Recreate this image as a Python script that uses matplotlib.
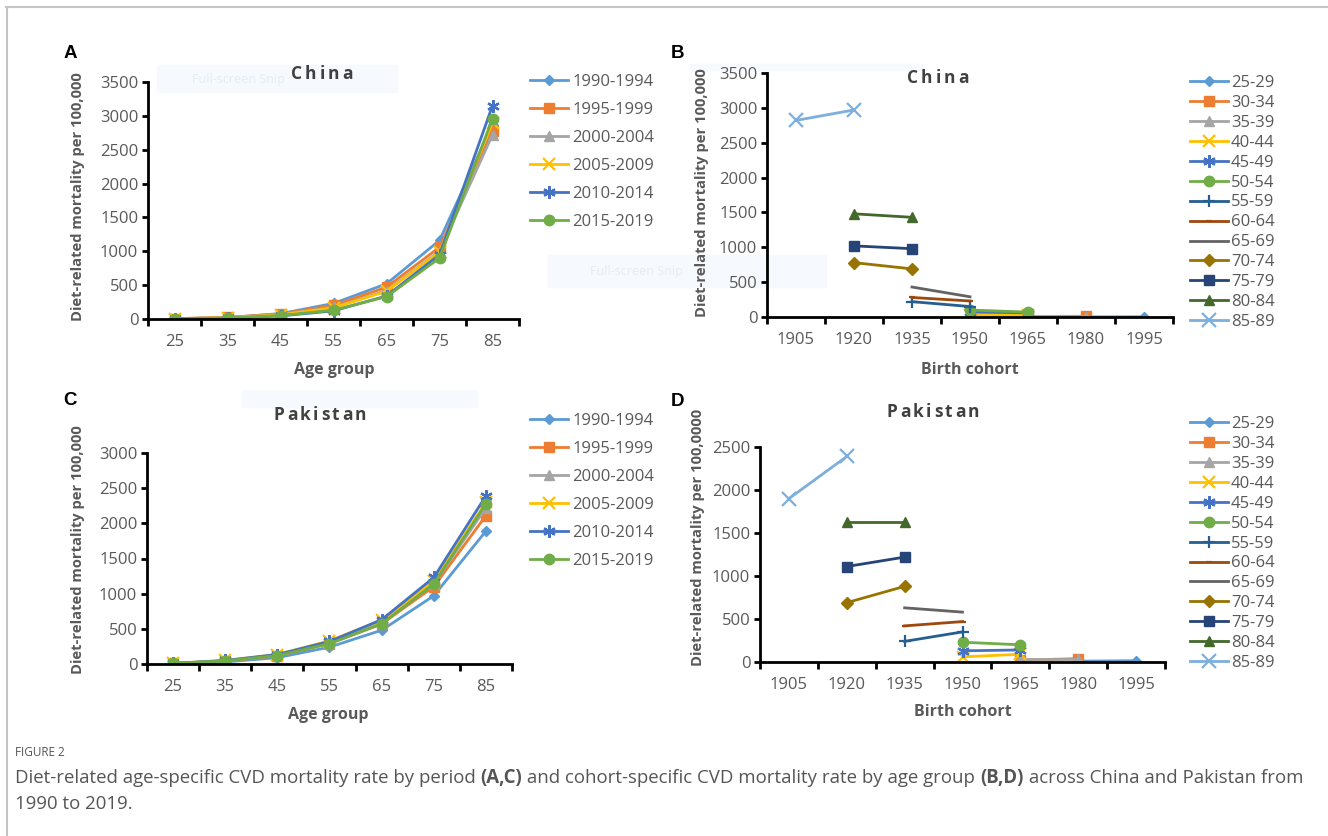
import matplotlib

matplotlib.use("Agg")
import matplotlib.pyplot as plt
from matplotlib.lines import Line2D
from matplotlib.patches import Rectangle

plt.rcParams.update({"font.family": ["Open Sans", "DejaVu Sans"]})

W, H = 1328, 836
GRAY = "#595959"

# ---- data -------------------------------------------------------------
age_groups = ["25", "35", "45", "55", "65", "75", "85"]
periods = ["1990-1994", "1995-1999", "2000-2004", "2005-2009", "2010-2014", "2015-2019"]

china_period = {
    "1990-1994": [5, 20, 80, 230, 520, 1160, 2870],
    "1995-1999": [5, 25, 75, 200, 470, 1060, 2780],
    "2000-2004": [4, 20, 65, 170, 420, 1000, 2720],
    "2005-2009": [4, 18, 60, 165, 410, 990, 2900],
    "2010-2014": [3, 12, 45, 120, 340, 950, 3150],
    "2015-2019": [3, 12, 50, 130, 330, 900, 2960],
}
pakistan_period = {
    "1990-1994": [5, 30, 90, 240, 480, 970, 1890],
    "1995-1999": [8, 40, 115, 290, 570, 1100, 2110],
    "2000-2004": [8, 45, 120, 300, 590, 1140, 2220],
    "2005-2009": [9, 50, 135, 330, 620, 1180, 2300],
    "2010-2014": [9, 50, 135, 320, 630, 1230, 2390],
    "2015-2019": [8, 45, 120, 290, 570, 1140, 2280],
}

cohorts = ["1905", "1920", "1935", "1950", "1965", "1980", "1995"]
age_bands = ["25-29", "30-34", "35-39", "40-44", "45-49", "50-54", "55-59",
             "60-64", "65-69", "70-74", "75-79", "80-84", "85-89"]
# first cohort index each age band starts at, then its two values
band_start = [5, 4, 4, 3, 3, 3, 2, 2, 2, 1, 1, 1, 0]
china_cohort = [
    [2, 3], [8, 10], [10, 5], [30, 25], [70, 60], [100, 70], [220, 150],
    [280, 230], [430, 290], [780, 690], [1020, 980], [1480, 1430], [2820, 2970],
]
pakistan_cohort = [
    [10, 15], [20, 40], [30, 30], [60, 90], [130, 140], [230, 200], [240, 350],
    [420, 470], [630, 580], [690, 880], [1110, 1220], [1630, 1630], [1900, 2390],
]

# ---- styles -----------------------------------------------------------
period_style = [
    ("#5B9BD5", "D", 5.5), ("#ED7D31", "s", 6.5), ("#A5A5A5", "^", 6.5),
    ("#FFC000", "x", 8), ("#4472C4", (6, 2, 0), 9), ("#70AD47", "o", 7.5),
]
band_style = [
    ("#5B9BD5", "D", 5.5), ("#ED7D31", "s", 6.5), ("#A5A5A5", "^", 6.5),
    ("#FFC000", "x", 8), ("#4472C4", (6, 2, 0), 9), ("#70AD47", "o", 7.5),
    ("#255E91", "+", 9), ("#9E480E", "_", 4), ("#636363", None, 0),
    ("#997300", "D", 6.5), ("#264478", "s", 7.5), ("#43682B", "^", 7.5),
    ("#7CAFDD", "x", 10),
]

fig = plt.figure(figsize=(W / 100, H / 100), dpi=100)
renderer = fig.canvas.get_renderer()


def fx(x):
    return x / W


def fy(y):
    return 1 - y / H


def make_axes(l, r, t, b):
    return fig.add_axes([fx(l), fy(b), (r - l) / W, (b - t) / H])


def style_axes(ax, ncat, ymax, step):
    ax.set_xlim(-0.5, ncat - 0.5)
    ax.set_ylim(0, ymax)
    ax.set_yticks(range(0, ymax + 1, step))
    ax.set_xticks(range(ncat))
    ax.set_xticks([i - 0.5 for i in range(ncat + 1)], minor=True)
    for s in ("top", "right"):
        ax.spines[s].set_visible(False)
    for s in ("left", "bottom"):
        ax.spines[s].set_linewidth(2)
        ax.spines[s].set_color("black")
    ax.tick_params(axis="x", which="major", length=0, pad=11, labelsize=12, labelcolor=GRAY)
    ax.tick_params(axis="x", which="minor", length=5, width=2, direction="out")
    ax.tick_params(axis="y", length=4, width=2, pad=3, labelsize=12, labelcolor=GRAY)
    ax.patch.set_alpha(0)


def period_panel(box, data, ymax, leg_xy):
    ax = make_axes(*box)
    x = range(len(age_groups))
    for (c, m, ms), p in zip(period_style, periods):
        ax.plot(x, data[p], color=c, marker=m, markersize=ms, lw=2,
                markeredgewidth=1.6 if m in ("x", (6, 2, 0)) else 1, label=p)
    style_axes(ax, len(age_groups), ymax, 500)
    ax.set_xticklabels(age_groups)
    fig.legend(*ax.get_legend_handles_labels(), loc="upper left",
               bbox_to_anchor=(fx(leg_xy[0]), fy(leg_xy[1])), frameon=False,
               fontsize=12, labelcolor=GRAY, handlelength=2.3, handletextpad=0.25,
               labelspacing=0.72, borderaxespad=0, borderpad=0)
    return ax


def cohort_panel(box, data, ymax, leg_xy):
    ax = make_axes(*box)
    for (c, m, ms), lab, st, vals in zip(band_style, age_bands, band_start, data):
        ax.plot([st, st + 1], vals, color=c, marker=m, markersize=ms, lw=2,
                markeredgewidth=1.6 if m in ("x", "+", (6, 2, 0), "_") else 1, label=lab)
    style_axes(ax, len(cohorts), ymax, 500)
    ax.set_xticklabels(cohorts)
    fig.legend(*ax.get_legend_handles_labels(), loc="upper left",
               bbox_to_anchor=(fx(leg_xy[0]), fy(leg_xy[1])), frameon=False,
               fontsize=12, labelcolor=GRAY, handlelength=2.3, handletextpad=0.15,
               labelspacing=0.235, borderaxespad=0, borderpad=0)
    return ax


def txt(x, y, s, **kw):
    kw.setdefault("ha", "center")
    kw.setdefault("va", "center")
    return fig.text(fx(x), fy(y), s, **kw)


def spaced(xc, y, s, track, **kw):
    # letter-spaced title, centred on xc
    parts = [txt(0, y, ch, ha="left", **kw) for ch in s]
    widths = [p.get_window_extent(renderer).width for p in parts]
    total = sum(widths) + track * (len(s) - 1)
    x = xc - total / 2
    for p, w in zip(parts, widths):
        p.set_x(fx(x))
        x += w + track


# faint screenshot artefacts (behind everything)
for (l, t, r, b) in [(157, 65, 397, 92), (548, 255, 826, 287), (242, 390, 477, 407), (690, 64, 923, 70)]:
    fig.patches.append(Rectangle((fx(l), fy(b)), (r - l) / W, (b - t) / H,
                                 transform=fig.transFigure, color="#f6f9fd", zorder=-5))
txt(238, 79, "Full-screen Snip", fontsize=9, color="#e6ecf4", zorder=-4)
txt(636, 271, "Full-screen Snip", fontsize=9, color="#e6ecf4", zorder=-4)

axA = period_panel((148, 519, 82, 319), china_period, 3500, (530, 74))
axC = period_panel((147, 512, 453, 664), pakistan_period, 3000, (530, 413))
axB = cohort_panel((767, 1173, 73, 317), china_cohort, 3500, (1190, 75))
axD = cohort_panel((760, 1165, 447, 662), pakistan_cohort, 2500, (1190, 416))

# titles, letters, axis labels
bold_gray = dict(fontweight="bold", color=GRAY)
ttl = dict(fontsize=12.5, fontweight="bold", color="#404040")
spaced(322, 74, "China", 3, **ttl)
spaced(938, 78, "China", 3, **ttl)
spaced(320, 415, "Pakistan", 2.5, **ttl)
spaced(933, 412, "Pakistan", 2.5, **ttl)
for x, y, s in [(70, 53, "A"), (677, 53, "B"), (70, 400, "C"), (677, 402, "D")]:
    txt(x, y, s, fontsize=13.5, fontweight="bold", color="black", family="Liberation Sans")
txt(334, 370, "Age group", fontsize=11.5, **bold_gray)
txt(328, 715, "Age group", fontsize=11.5, **bold_gray)
txt(970, 370, "Birth cohort", fontsize=11.5, **bold_gray)
txt(963, 712, "Birth cohort", fontsize=11.5, **bold_gray)
txt(78, 197, "Diet-related mortality per 100,000", fontsize=10.6, rotation=90, **bold_gray)
txt(78, 550, "Diet-related mortality per 100,000", fontsize=10.6, rotation=90, **bold_gray)
txt(702, 193, "Diet-related mortality per 100,000", fontsize=10.6, rotation=90, **bold_gray)
txt(698, 537, "Diet-related mortality per 100,0000", fontsize=10.6, rotation=90, **bold_gray)

# caption
cap = "#555555"
txt(15, 752, "FIGURE 2", fontsize=8.5, color=cap, ha="left")
pieces = [("Diet-related age-specific CVD mortality rate by period ", "normal"),
          ("(A,C)", "bold"),
          (" and cohort-specific CVD mortality rate by age group ", "normal"),
          ("(B,D)", "bold"),
          (" across China and Pakistan from", "normal")]
xpos = 15
for s, w in pieces:
    t = txt(xpos, 778, s, fontsize=13.4, color=cap, ha="left", fontweight=w)
    xpos += t.get_window_extent(renderer).width
txt(15, 804, "1990 to 2019.", fontsize=13.4, color=cap, ha="left")

# outer frame
fig.add_artist(Line2D([fx(6), fx(1328)], [fy(7), fy(7)], color="#c4c4c4", lw=1.5))
fig.add_artist(Line2D([fx(7), fx(7)], [fy(7), fy(836)], color="#c4c4c4", lw=1.5))

fig.savefig("out.png", dpi=100)
